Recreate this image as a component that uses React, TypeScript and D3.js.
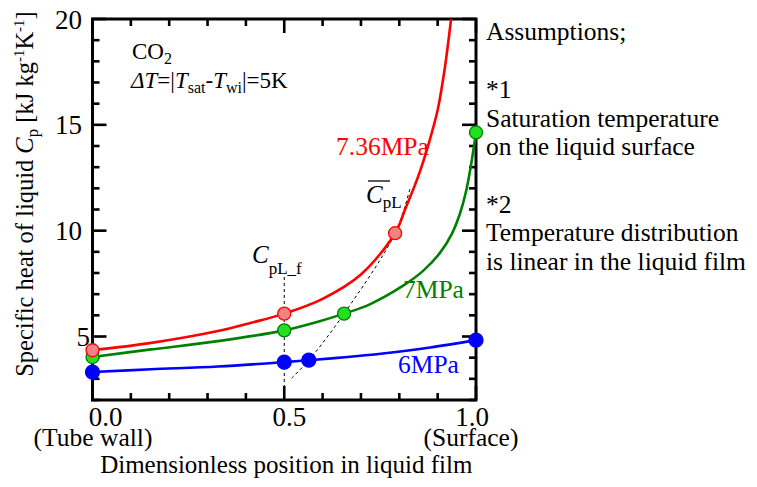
import React from "react";
import * as d3 from "d3";

// ---------- data ----------
const xTicksMajor = [0, 0.5, 1.0];
const xTickLabels = ["0.0", "0.5", "1.0"];
const xTickSubLabels = ["(Tube wall)", "", "(Surface)"];
const yTicksMajor = [5, 10, 15, 20];
const yTickLabels = ["5", "10", "15", "20"];

const seriesNames = ["7.36MPa", "7MPa", "6MPa"];

const curve736: [number, number][] = [
  [0, 4.35], [0.153, 4.7], [0.327, 5.26], [0.414, 5.65], [0.5, 6.08], [0.6, 6.78],
  [0.7, 7.93], [0.789, 9.88], [0.815, 11.0], [0.85, 12.6], [0.878, 14.2], [0.9, 15.7],
  [0.918, 17.6], [0.935, 20.0],
];
const curve7: [number, number][] = [
  [0, 4.03], [0.153, 4.39], [0.327, 4.78], [0.5, 5.29], [0.588, 5.7], [0.656, 6.08],
  [0.723, 6.52], [0.81, 7.4], [0.862, 8.1], [0.906, 8.95], [0.937, 9.85], [0.958, 10.8],
  [0.974, 11.85], [0.987, 13.1], [1.0, 14.64],
];
const curve6: [number, number][] = [
  [0, 3.32], [0.153, 3.45], [0.327, 3.58], [0.5, 3.79], [0.564, 3.88], [0.658, 4.02],
  [0.757, 4.2], [0.88, 4.48], [1.0, 4.83],
];

const markers736: [number, number][] = [[0, 4.35], [0.5, 6.08], [0.789, 9.88]];
const markers7: [number, number][] = [[0, 4.03], [0.5, 5.29], [0.656, 6.08], [1.0, 14.64]];
const markers6: [number, number][] = [[0, 3.32], [0.5, 3.79], [0.564, 3.88], [1.0, 4.83]];

// locus of mean Cp (dashed)
const meanLocus: [number, number][] = [
  [0.519, 3.03], [0.564, 3.88], [0.656, 6.08], [0.789, 9.88], [0.828, 12.0],
];
// film position line (x = 0.5)
const filmLineX = 0.5;
const filmLineY: [number, number] = [2, 8.0];

const assumptions = [
  "Assumptions;",
  "*1",
  "Saturation temperature",
  "on the liquid surface",
  "*2",
  "Temperature distribution",
  "is linear in the liquid film",
];

// ---------- layout / style ----------
const W = 757;
const H = 487;
const L = 92.5, R = 476, T = 19, B = 400;
const FONT = "'Liberation Serif', 'Times New Roman', Times, serif";
const colors = { r: "#ff0000", g: "#008000", b: "#0000ff" };
const markerStyle = {
  r: { fill: "#f38383", stroke: "#ff0000" },
  g: { fill: "#22e022", stroke: "#008000" },
  b: { fill: "#0000ff", stroke: "#0000ff" },
};
const xLabelDx = [13, 5, -4];
const yLabelDx = [8, 0, 0, 0];
const assumptionBaselines = [40, 98, 127, 155, 213, 241, 270];

export default function App() {
  const x = d3.scaleLinear().domain([0, 1]).range([L, R]);
  const y = d3.scaleLinear().domain([2, 20]).range([B, T]);

  const line = d3
    .line<[number, number]>()
    .x((d) => x(d[0]))
    .y((d) => y(d[1]))
    .curve(d3.curveCatmullRom.alpha(0.5));

  const xMinor = d3.range(0, 11).map((i) => i / 10);
  const yMinor = d3.range(2, 21);
  const isMajorX = (v: number) => xTicksMajor.some((m) => Math.abs(m - v) < 1e-6);
  const isMajorY = (v: number) => yTicksMajor.some((m) => Math.abs(m - v) < 1e-6);

  const majLen = 14;
  const minLen = 7;
  const tw = 2.6;

  const tickRects: { x: number; y: number; w: number; h: number }[] = [];
  xMinor.forEach((v) => {
    const len = isMajorX(v) ? majLen : minLen;
    const px = x(v);
    tickRects.push({ x: px - tw / 2, y: B - len, w: tw, h: len });
    tickRects.push({ x: px - tw / 2, y: T, w: tw, h: len });
  });
  yMinor.forEach((v) => {
    const len = isMajorY(v) ? majLen : minLen;
    const py = y(v);
    tickRects.push({ x: L, y: py - tw / 2, w: len, h: tw });
    tickRects.push({ x: R - len, y: py - tw / 2, w: len, h: tw });
  });

  return (
    <svg
      width={W}
      height={H}
      viewBox={`0 0 ${W} ${H}`}
      style={{ position: "absolute", left: 0, top: 0, background: "#fff" }}
      fontFamily={FONT}
    >
      <defs>
        <clipPath id="plotclip">
          <rect x={L} y={T} width={R - L} height={B - T} />
        </clipPath>
      </defs>
      <rect x={0} y={0} width={W} height={H} fill="#fff" />

      {/* ticks + frame */}
      <g fill="#000000">
        {tickRects.map((t, i) => (
          <rect key={"tk" + i} x={t.x} y={t.y} width={t.w} height={t.h} />
        ))}
      </g>
      <rect x={L} y={T} width={R - L} height={B - T} fill="none" stroke="#000" strokeWidth={3} />

      {/* tick labels */}
      <g fontSize={27} fill="#000">
        {xTicksMajor.map((v, i) => (
          <text key={"xl" + i} x={x(v) + xLabelDx[i]} y={426} textAnchor="middle">
            {xTickLabels[i]}
          </text>
        ))}
        {yTicksMajor.map((v, i) => (
          <text key={"yl" + i} x={82 + yLabelDx[i]} y={y(v) + 9.5} textAnchor="end">
            {yTickLabels[i]}
          </text>
        ))}
      </g>
      <g fontSize={25.5} fill="#000">
        {xTicksMajor.map((v, i) =>
          xTickSubLabels[i] ? (
            <text key={"xs" + i} x={x(v) + (i === 0 ? 0.5 : -5)} y={446} textAnchor="middle">
              {xTickSubLabels[i]}
            </text>
          ) : null
        )}
      </g>

      {/* axis titles */}
      <text x={(L + R) / 2 + 2} y={473} fontSize={25} textAnchor="middle" fill="#000">
        Dimensionless position in liquid film
      </text>
      <text
        transform={`translate(33, 194) rotate(-90)`}
        fontSize={24.5}
        textAnchor="middle"
        fill="#000"
      >
        Specific heat of liquid <tspan fontStyle="italic">C</tspan>
        <tspan fontSize={17} dy={5}>p</tspan>
        <tspan dy={-5}> [kJ kg</tspan>
        <tspan fontSize={15} dy={-9}>-1</tspan>
        <tspan dy={9}>K</tspan>
        <tspan fontSize={15} dy={-9}>-1</tspan>
        <tspan dy={9}>]</tspan>
      </text>

      {/* dashed guide lines */}
      <g clipPath="url(#plotclip)" fill="none" stroke="#000" strokeWidth={1} strokeDasharray="3,3">
        <line x1={x(filmLineX)} x2={x(filmLineX)} y1={y(filmLineY[0])} y2={y(filmLineY[1])} />
        <path d={line(meanLocus) || ""} />
      </g>

      {/* curves */}
      <g clipPath="url(#plotclip)" fill="none" strokeWidth={2.6}>
        <path d={line(curve6) || ""} stroke={colors.b} />
        <path d={line(curve7) || ""} stroke={colors.g} />
        <path d={line(curve736) || ""} stroke={colors.r} />
      </g>

      {/* markers */}
      <g strokeWidth={1.3}>
        {markers6.map((d, i) => (
          <circle key={"mb" + i} cx={x(d[0])} cy={y(d[1])} r={7} fill={markerStyle.b.fill} stroke={markerStyle.b.stroke} />
        ))}
        {markers7.map((d, i) => (
          <circle key={"mg" + i} cx={x(d[0])} cy={y(d[1])} r={6.5} fill={markerStyle.g.fill} stroke={markerStyle.g.stroke} />
        ))}
        {markers736.map((d, i) => (
          <circle key={"mr" + i} cx={x(d[0])} cy={y(d[1])} r={6.5} fill={markerStyle.r.fill} stroke={markerStyle.r.stroke} />
        ))}
      </g>

      {/* series labels */}
      <g fontSize={25.5}>
        <text x={336} y={155} fill={colors.r}>{seriesNames[0]}</text>
        <text x={403} y={298} fill={colors.g}>{seriesNames[1]}</text>
        <text x={398} y={373} fill={colors.b}>{seriesNames[2]}</text>
      </g>

      {/* C_pL bar label */}
      <g fill="#000">
        <text x={366} y={203} fontSize={25}>
          <tspan fontStyle="italic">C</tspan>
          <tspan fontSize={17} dy={5}>pL</tspan>
        </text>
        <line x1={368} x2={390} y1={181} y2={181} stroke="#000" strokeWidth={1.3} />
        <text x={252} y={263} fontSize={25}>
          <tspan fontStyle="italic">C</tspan>
          <tspan fontSize={17} dy={11}>pL_f</tspan>
        </text>
      </g>

      {/* condition annotation */}
      <g fill="#000" fontSize={23}>
        <text x={132} y={59}>
          CO<tspan fontSize={16} dy={5}>2</tspan>
        </text>
        <text x={131} y={88}>
          <tspan fontStyle="italic">ΔT</tspan>=|<tspan fontStyle="italic">T</tspan>
          <tspan fontSize={16} dy={5}>sat</tspan>
          <tspan dy={-5}>-</tspan>
          <tspan fontStyle="italic">T</tspan>
          <tspan fontSize={16} dy={5}>wi</tspan>
          <tspan dy={-5}>|=5K</tspan>
        </text>
      </g>

      {/* assumptions */}
      <g fill="#000" fontSize={25.5}>
        {assumptions.map((s, i) => (
          <text key={"as" + i} x={486} y={assumptionBaselines[i]}>
            {s}
          </text>
        ))}
      </g>
    </svg>
  );
}
